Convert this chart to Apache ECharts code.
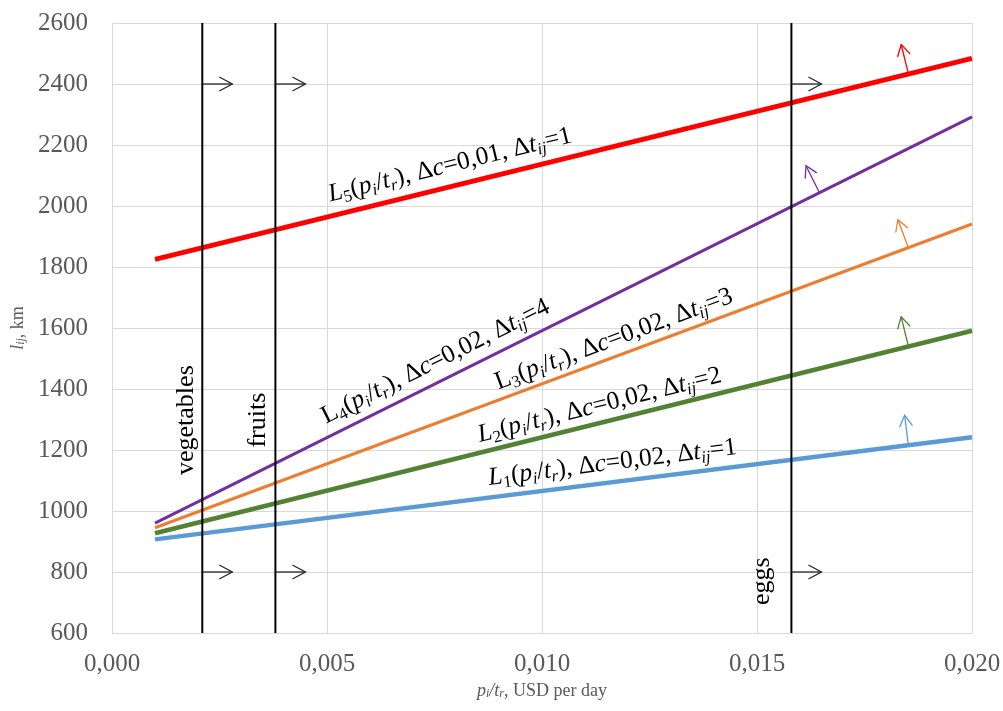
<!DOCTYPE html>
<html><head><meta charset="utf-8">
<script src="https://cdn.jsdelivr.net/npm/echarts@6/dist/echarts.min.js"></script>
<style>html,body{margin:0;padding:0;background:#fff}#c{width:1003px;height:711px}</style>
</head><body><div id="c"></div>
<script>
// ---- data ----
const xTicks = [0, 0.005, 0.010, 0.015, 0.020];
const yTicks = [600, 800, 1000, 1200, 1400, 1600, 1800, 2000, 2200, 2400, 2600];
const lineX = [0.001, 0.020];
const L1 = [907, 1242];
const L2 = [927, 1591];
const L3 = [945, 1941];
const L4 = [960, 2292];
const L5 = [1825, 2484];
const productNames = ['vegetables', 'fruits', 'eggs'];
const productX = [0.0021, 0.0038, 0.0158];
const productArrowY = [2400, 800];
const productLabelPos = [[0.00173, 1298], [0.0034, 1298], [0.01512, 770]];
const lineArrowBase = [[0.01852, 1216], [0.01852, 1541], [0.01852, 1863], [0.01645, 2044], [0.01852, 2434]];
const labelAnchor = [[0.0088, 1058], [0.0086, 1200], [0.00905, 1373], [0.00506, 1262], [0.00512, 1988]];
const labelTexts = [
  '{it|L}{sub|1}{n|(}{it|p}{subi|i}{n|/}{it|t}{subi|r}{n|), Δ}{it|c}{n|=0,02, Δ}{it|t}{subi|ij}{n|=1}',
  '{it|L}{sub|2}{n|(}{it|p}{subi|i}{n|/}{it|t}{subi|r}{n|), Δ}{it|c}{n|=0,02, Δ}{it|t}{subi|ij}{n|=2}',
  '{n|L}{sub|3}{n|(}{it|p}{subi|i}{n|/}{it|t}{subi|r}{n|), Δ}{it|c}{n|=0,02, Δ}{it|t}{subi|ij}{n|=3}',
  '{n|L}{sub|4}{n|(}{it|p}{subi|i}{n|/}{it|t}{subi|r}{n|), Δ}{it|c}{n|=0,02, Δ}{it|t}{subi|ij}{n|=4}',
  '{it|L}{sub|5}{n|(}{it|p}{subi|i}{n|/}{it|t}{subi|r}{n|), Δ}{it|c}{n|=0,01, Δ}{it|t}{subi|ij}{n|=1}'
];

// ---- styles ----
const SERIF = '"Liberation Serif", "Times New Roman", serif';
const lines = [L1, L2, L3, L4, L5];
const lineColors = ['#5B9BD5', '#548235', '#ED7D31', '#7030A0', '#FF0000'];
const lineWidths = [4.5, 4.5, 3, 3, 5];
const rich = {
  n: {fontFamily: SERIF, fontSize: 25.5, lineHeight: 30, fill: '#000', color: '#000', verticalAlign: 'middle'},
  it: {fontFamily: SERIF, fontSize: 25.5, lineHeight: 30, fontStyle: 'italic', fill: '#000', color: '#000', verticalAlign: 'middle'},
  sub: {fontFamily: SERIF, fontSize: 17, lineHeight: 17, fill: '#000', color: '#000', verticalAlign: 'bottom'},
  subi: {fontFamily: SERIF, fontSize: 17, lineHeight: 17, fontStyle: 'italic', fill: '#000', color: '#000', verticalAlign: 'bottom'}
};

const chart = echarts.init(document.getElementById('c'), null, {renderer: 'canvas'});

function lineAngle(api, idx) {
  const a = api.coord([lineX[0], lines[idx][0]]);
  const b = api.coord([lineX[1], lines[idx][1]]);
  return Math.atan2(-(b[1] - a[1]), b[0] - a[0]);
}

const series = [];
lines.forEach((L, i) => {
  series.push({
    type: 'line', data: [[lineX[0], L[0]], [lineX[1], L[1]]],
    showSymbol: false, silent: true, z: 3,
    lineStyle: {color: lineColors[i], width: lineWidths[i]}
  });
});
productX.forEach((x) => {
  series.push({
    type: 'line', data: [[x, 600], [x, 2600]],
    showSymbol: false, silent: true, z: 4,
    lineStyle: {color: '#000', width: 2}
  });
});
// horizontal arrows from product lines
const hArrowData = [];
productX.forEach(x => productArrowY.forEach(y => hArrowData.push([x, y])));
series.push({
  type: 'custom', z: 5, silent: true,
  data: hArrowData,
  encode: {x: 0, y: 1},
  renderItem: function (params, api) {
    const p = api.coord([api.value(0), api.value(1)]);
    const st = {stroke: '#262626', lineWidth: 1.3, fill: null};
    return {type: 'group', children: [
      {type: 'polyline', shape: {points: [[p[0], p[1]], [p[0] + 30, p[1]]]}, style: st},
      {type: 'polyline', shape: {points: [[p[0] + 17, p[1] - 7], [p[0] + 30, p[1]], [p[0] + 17, p[1] + 7]]}, style: st}
    ]};
  }
});
// arrows perpendicular to curves
series.push({
  type: 'custom', z: 5, silent: true,
  data: lineArrowBase.map((b, i) => [b[0], b[1], i]),
  encode: {x: 0, y: 1},
  renderItem: function (params, api) {
    const idx = api.value(2);
    const p = api.coord([api.value(0), api.value(1)]);
    const ang = lineAngle(api, idx);
    const ux = Math.cos(ang), uy = -Math.sin(ang);
    const nx = uy, ny = -ux; // perpendicular pointing up
    const len = 30, arm = 13, th = Math.PI / 6;
    const tip = [p[0] + nx * len, p[1] + ny * len];
    const bx = -nx, by = -ny;
    const a1 = [tip[0] + arm * (bx * Math.cos(th) - by * Math.sin(th)), tip[1] + arm * (bx * Math.sin(th) + by * Math.cos(th))];
    const a2 = [tip[0] + arm * (bx * Math.cos(-th) - by * Math.sin(-th)), tip[1] + arm * (bx * Math.sin(-th) + by * Math.cos(-th))];
    const st = {stroke: lineColors[idx], lineWidth: 1.3, fill: null};
    return {type: 'group', children: [
      {type: 'polyline', shape: {points: [p, tip]}, style: st},
      {type: 'polyline', shape: {points: [a1, tip, a2]}, style: st}
    ]};
  }
});
// curve labels
series.push({
  type: 'custom', z: 6, silent: true,
  data: labelAnchor.map((b, i) => [b[0], b[1], i]),
  encode: {x: 0, y: 1},
  renderItem: function (params, api) {
    const idx = api.value(2);
    const p = api.coord([api.value(0), api.value(1)]);
    return {
      type: 'text', x: p[0], y: p[1], rotation: lineAngle(api, idx),
      style: {text: labelTexts[idx], rich: rich, x: 0, y: 0, align: 'left', verticalAlign: 'bottom',
        fontFamily: SERIF, fontSize: 25, fill: '#000'}
    };
  }
});
// product labels
series.push({
  type: 'custom', z: 6, silent: true,
  data: productLabelPos.map((b, i) => [b[0], b[1], i]),
  encode: {x: 0, y: 1},
  renderItem: function (params, api) {
    const idx = api.value(2);
    const p = api.coord([api.value(0), api.value(1)]);
    return {
      type: 'text', x: p[0], y: p[1], rotation: Math.PI / 2,
      style: {text: productNames[idx], x: 0, y: 0, align: 'center', verticalAlign: 'middle',
        fontFamily: SERIF, fontSize: 26, fill: '#000'}
    };
  }
});

const axisRich = {
  n: {fontFamily: SERIF, fontSize: 18, color: '#595959'},
  it: {fontFamily: SERIF, fontSize: 18, fontStyle: 'italic', color: '#595959'},
  sub: {fontFamily: SERIF, fontSize: 12, fontStyle: 'italic', color: '#595959', verticalAlign: 'bottom', lineHeight: 12}
};

chart.setOption({
  animation: false,
  backgroundColor: '#fff',
  grid: {left: 112, right: 31, top: 23, bottom: 78, containLabel: false, outerBoundsMode: 'none'},
  xAxis: {
    type: 'value', min: xTicks[0], max: xTicks[xTicks.length - 1], interval: xTicks[1] - xTicks[0],
    axisLine: {show: true, lineStyle: {color: '#d9d9d9', width: 1}},
    axisTick: {show: false},
    splitLine: {show: true, lineStyle: {color: '#d9d9d9', width: 1}},
    axisLabel: {fontFamily: SERIF, fontSize: 25, color: '#595959', margin: 19,
      formatter: v => v.toFixed(3).replace('.', ',')},
    name: '{it|p}{sub|i}{it|/t}{sub|r}{n|, USD per day}',
    nameLocation: 'middle', nameGap: 49,
    nameTextStyle: {rich: axisRich, fontFamily: SERIF, fontSize: 18, color: '#595959'}
  },
  yAxis: {
    type: 'value', min: yTicks[0], max: yTicks[yTicks.length - 1], interval: yTicks[1] - yTicks[0],
    axisLine: {show: true, lineStyle: {color: '#d9d9d9', width: 1}},
    axisTick: {show: false},
    splitLine: {show: true, lineStyle: {color: '#d9d9d9', width: 1}},
    axisLabel: {fontFamily: SERIF, fontSize: 25, color: '#595959', margin: 24,
      formatter: v => String(v)},
    name: '{it|l}{sub|ij}{n|, km}',
    nameLocation: 'middle', nameGap: 82,
    nameTextStyle: {rich: axisRich, fontFamily: SERIF, fontSize: 18, color: '#595959'}
  },
  series: series
});
</script>
</body></html>
